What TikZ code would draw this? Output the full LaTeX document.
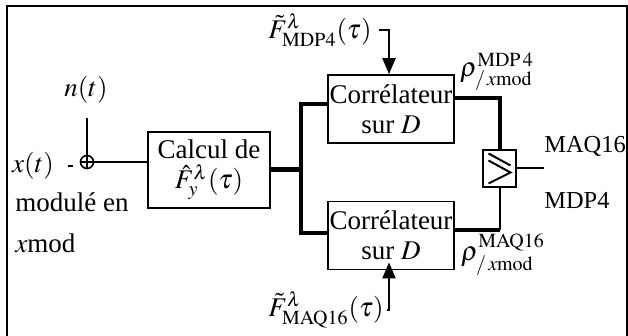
\documentclass[tikz,border=0pt]{standalone}
\usepackage{mathptmx}
\usepackage{fontspec}
\setmainfont{Liberation Serif}
\usetikzlibrary{arrows.meta,positioning}

\begin{document}
\begin{tikzpicture}[x=0.5pt,y=-0.5pt,node distance=0mm,
    font=\fontsize{13.5}{15}\selectfont,
    blockbox/.style={draw,line width=0.8pt,align=center,inner sep=0pt},
    lbl/.style={inner sep=0pt},
    outlbl/.style={inner sep=0pt,anchor=west,font=\fontsize{12.2}{14}\selectfont},
    sig/.style={line width=1pt},
    bus/.style={line width=2pt,line join=miter},
    inarrow/.style={line width=1pt,-{Triangle[length=8pt,width=6.5pt]}}]
    \useasboundingbox (0,0) rectangle (628,336);
    \draw[line width=1pt] (7,6) rectangle (626.5,345);
    % blocs
    \node[blockbox,minimum width=61pt,minimum height=38pt] (calc) at (209,170) {Calcul de\\$\hat{F}_y^{\lambda}(\tau)$};
    \node[blockbox,minimum width=63pt,minimum height=34pt] (corr1) at (391,109) {Corrélateur\\sur $D$};
    \node[blockbox,minimum width=63pt,minimum height=34pt,below=28.5pt of corr1] (corr2) {Corrélateur\\sur $D$};
    \node[blockbox,minimum width=16.5pt,minimum height=18.5pt] (cmp) at (499.5,168.5) {};
    \node[circle,draw,line width=0.8pt,minimum size=6.5pt,inner sep=0pt] (sum) at (87,162) {};
    \draw[line width=0.8pt] (sum.north) -- (sum.south) (sum.west) -- (sum.east);
    \draw[sig,shift={(cmp.center)}] (-11,-15) -- (11,-3) (-11,-8) -- (11,4) -- (-11,15);
    % textes
    \node[lbl] (nt) at (86,90) {$n(t)$};
    \node[lbl] (xt) at (33,166) {$x(t)$};
    \node[lbl,anchor=west] (mod1) at (15,202) {modulé en};
    \node[lbl,anchor=west] (mod2) at (15,243) {$x$mod};
    \node[lbl] (fmdp) at (320,30) {$\tilde{F}^{\lambda}_{\mathrm{MDP4}}(\tau)$};
    \node[lbl] (fmaq) at (326,310) {$\tilde{F}^{\lambda}_{\mathrm{MAQ16}}(\tau)$};
    \node[lbl] (rho1) at (497,72) {$\rho^{\mathrm{MDP\,4}}_{/\,x\mathrm{mod}}$};
    \node[lbl] (rho2) at (503,255) {$\rho^{\mathrm{MAQ16}}_{/\,x\mathrm{mod}}$};
    \node[outlbl] (maq) at (544,146) {MAQ16};
    \node[outlbl] (mdp) at (544,200) {MDP4};
    % liaisons
    \coordinate (split) at ([xshift=15pt]calc.east);
    \coordinate (c1in) at ([yshift=2.5pt]corr1.west);
    \coordinate (c2in) at ([yshift=1.5pt]corr2.west);
    \coordinate (c1out) at ([yshift=5.5pt]corr1.east);
    \coordinate (c2out) at ([yshift=3pt]corr2.east);
    \coordinate (outend) at (544,168.5);
    \draw[sig,shorten <=7pt,shorten >=3.25pt] (xt.east) -- (xt.east -| sum.west);
    \draw[sig,shorten >=7pt] (sum.north) -- (sum.north |- nt.south);
    \draw[sig] (sum.east) -- (sum.east -| calc.west);
    \draw[line width=2.5pt] (calc.east) -- (split);
    \draw[bus] (c1in) -| (split) |- (c2in);
    \draw[bus] (c1out) -| (cmp.north);
    \draw[bus] (c2out) -- (c2out -| cmp.south);
    \draw[sig] (c2out -| cmp.south) -- (cmp.south);
    \draw[sig] (cmp.east) -- (outend);
    \draw[inarrow,shorten <=3.5pt] (fmdp.east) -| ([xshift=-1pt]corr1.north);
    \draw[inarrow,shorten <=1.5pt] (fmaq.east) -| ([xshift=-1pt,yshift=4pt]corr2.south);
\end{tikzpicture}
\end{document}
